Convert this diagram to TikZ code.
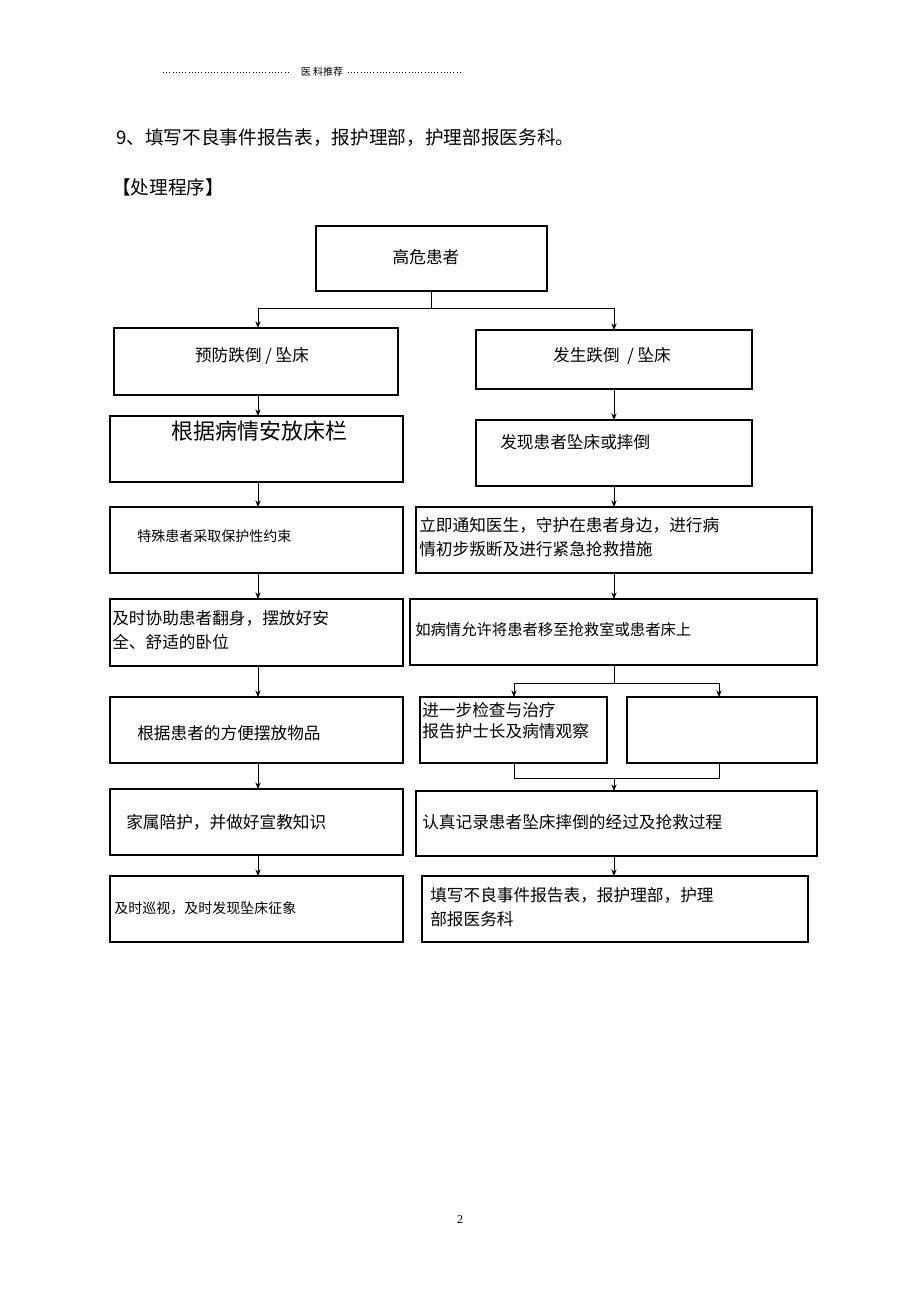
\documentclass[tikz,border=0pt]{standalone}
\usepackage{fontspec}
\setmainfont{Liberation Serif}
\newfontfamily\cjk{Noto Sans CJK SC}
\usetikzlibrary{arrows.meta}
\tikzset{
 bx/.style={draw,line width=0.8pt,inner sep=0pt,outer sep=0pt},
 tx/.style={font=\cjk\fontsize{12.5pt}{18pt}\selectfont,anchor=west,align=left,inner sep=0pt},
 ar/.style={line width=0.7pt,-{Stealth[length=5pt,width=4pt]}},
 ln/.style={line width=0.7pt}
}
\newcommand{\bbox}[5]{\node[bx,minimum width={(#4-#2)*0.75pt},minimum height={(#5-#3)*0.75pt}] (#1) at ({(#2+#4)/2},{(#3+#5)/2}) {};}
\begin{document}
\begin{tikzpicture}[x=0.75pt,y=-0.75pt]
\useasboundingbox (0,0) rectangle (920,1303);
% header
\draw[dotted,line width=0.4pt] (163,72) -- (290,72);
\node[font=\cjk\fontsize{7.5pt}{9pt}\selectfont] (hd) at (322,72) {医\ 料推荐};
\draw[dotted,line width=0.4pt] (hd.east) -- (460,72);
\node[tx,font=\cjk\fontsize{14pt}{16pt}\selectfont] (t1) at (116,138) {9、填写不良事件报告表，报护理部，护理部报医务科。};
\node[tx,font=\cjk\fontsize{14pt}{16pt}\selectfont] (t2) at (112,187) {【处理程序】};
% boxes
\bbox{top}{316}{226}{547}{291}
\node[tx,anchor=center] at (426,257) {高危患者};
\bbox{L1}{114}{328}{398}{395}
\node[tx,anchor=center] at (252,356) {预防跌倒 / 坠床};
\bbox{R1}{476}{330}{752}{389}
\node[tx,anchor=center] at (612,356) {发生跌倒 \ / 坠床};
\bbox{L2}{110}{416}{403}{482}
\node[tx,font=\cjk\fontsize{16.5pt}{20pt}\selectfont] at (171,431) {根据病情安放床栏};
\bbox{R2}{476}{420}{752}{486}
\node[tx] at (500,442) {发现患者坠床或摔倒};
\bbox{L3}{110}{507}{403}{573}
\node[tx,font=\cjk\fontsize{10.5pt}{13pt}\selectfont] at (137,536) {特殊患者采取保护性约束};
\bbox{R3}{416}{507}{812}{573}
\node[tx] at (419,537) {立即通知医生，守护在患者身边，进行病\\情初步叛断及进行紧急抢救措施};
\bbox{L4}{110}{599}{403}{666}
\node[tx] at (112,630) {及时协助患者翻身，摆放好安\\全、舒适的卧位};
\bbox{R4}{410}{599}{817}{665}
\node[tx,font=\cjk\fontsize{11.5pt}{14pt}\selectfont] at (415,630) {如病情允许将患者移至抢救室或患者床上};
\bbox{R5a}{420}{697}{607}{763}
\node[tx,font=\cjk\fontsize{12.5pt}{16pt}\selectfont] at (422,721) {进一步检查与治疗\\报告护士长及病情观察};
\bbox{R5b}{627}{697}{817}{763}
\bbox{L5}{110}{697}{403}{763}
\node[tx] at (137,733) {根据患者的方便摆放物品};
\bbox{L6}{110}{789}{403}{855}
\node[tx] at (126,822) {家属陪护，并做好宣教知识};
\bbox{R6}{416}{791}{817}{856}
\node[tx] at (422,822) {认真记录患者坠床摔倒的经过及抢救过程};
\bbox{L7}{110}{876}{403}{942}
\node[tx,font=\cjk\fontsize{10.5pt}{13pt}\selectfont] at (114,908) {及时巡视，及时发现坠床征象};
\bbox{R7}{422}{876}{808}{942}
\node[tx] at (430,907) {填写不良事件报告表，报护理部，护理\\部报医务科};
\node[font=\fontsize{9pt}{10pt}\selectfont] (pg) at (460,1220) {2};
% connectors
\coordinate (s1) at (431,308);
\draw[ln] (top.south -| s1) -- (s1);
\draw[ln] (258,308) -- (614,308);
\draw[ar] (258,308) -- (258,328);
\draw[ar] (614,308) -- (614,330);
\draw[ar] (L1.south -| 258,0) -- (L2.north -| 258,0);
\draw[ar] (L2.south -| 258,0) -- (L3.north -| 258,0);
\draw[ar] (L3.south -| 258,0) -- (L4.north -| 258,0);
\draw[ar] (L4.south -| 258,0) -- (L5.north -| 258,0);
\draw[ar] (L5.south -| 258,0) -- (L6.north -| 258,0);
\draw[ar] (L6.south -| 258,0) -- (L7.north -| 258,0);
\draw[ar] (R1.south -| 614,0) -- (R2.north -| 614,0);
\draw[ar] (R2.south -| 614,0) -- (R3.north -| 614,0);
\draw[ar] (R3.south -| 614,0) -- (R4.north -| 614,0);
\draw[ln] (R4.south -| 614,0) -- (614,683);
\draw[ln] (514,683) -- (719,683);
\draw[ar] (514,683) -- (R5a.north -| 514,0);
\draw[ar] (719,683) -- (R5b.north -| 719,0);
\draw[ln] (R5a.south -| 514,0) -- (514,778) -- (719,778) -- (R5b.south -| 719,0);
\draw[ar] (614,778) -- (R6.north -| 614,0);
\draw[ar] (R6.south -| 614,0) -- (R7.north -| 614,0);
\end{tikzpicture}
\end{document}
